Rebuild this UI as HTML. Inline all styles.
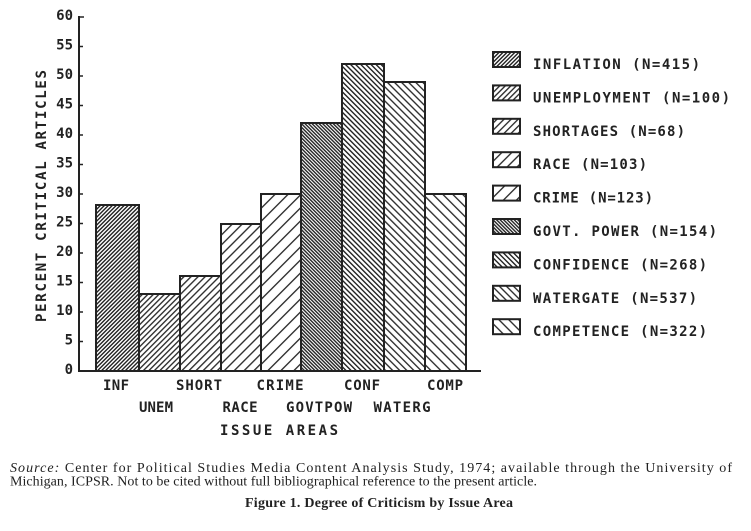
<!DOCTYPE html>
<html>
<head>
<meta charset="utf-8">
<style>
  html, body { margin:0; padding:0; background:#ffffff; }
  body { width:751px; height:531px; overflow:hidden; }
  svg { display:block; }
  .m { font-family:"DejaVu Sans Mono","Liberation Mono",monospace; font-weight:bold; fill:#222; font-size:14px; }
  .s { font-family:"Liberation Serif",serif; fill:#222; font-size:14px; }
</style>
</head>
<body>
<svg width="751" height="531" viewBox="0 0 751 531" xmlns="http://www.w3.org/2000/svg">
  <defs>
    <pattern id="pInf" width="2.8" height="10" patternUnits="userSpaceOnUse" patternTransform="rotate(45)">
      <rect width="2.8" height="10" fill="#fff"/>
      <line x1="0.7" y1="0" x2="0.7" y2="10" stroke="#222" stroke-width="1.4"/>
    </pattern>
    <pattern id="pUnem" width="3.9" height="10" patternUnits="userSpaceOnUse" patternTransform="rotate(45)">
      <rect width="3.9" height="10" fill="#fff"/>
      <line x1="0.7" y1="0" x2="0.7" y2="10" stroke="#222" stroke-width="1.3"/>
    </pattern>
    <pattern id="pShort" width="5" height="10" patternUnits="userSpaceOnUse" patternTransform="rotate(45)">
      <rect width="5" height="10" fill="#fff"/>
      <line x1="0.7" y1="0" x2="0.7" y2="10" stroke="#222" stroke-width="1.3"/>
    </pattern>
    <pattern id="pRace" width="7" height="10" patternUnits="userSpaceOnUse" patternTransform="rotate(45)">
      <rect width="7" height="10" fill="#fff"/>
      <line x1="0.7" y1="0" x2="0.7" y2="10" stroke="#222" stroke-width="1.3"/>
    </pattern>
    <pattern id="pCrime" width="9.2" height="10" patternUnits="userSpaceOnUse" patternTransform="rotate(45)">
      <rect width="9.2" height="10" fill="#fff"/>
      <line x1="0.7" y1="0" x2="0.7" y2="10" stroke="#222" stroke-width="1.3"/>
    </pattern>
    <pattern id="pGov" width="2.5" height="10" patternUnits="userSpaceOnUse" patternTransform="rotate(-45)">
      <rect width="2.5" height="10" fill="#fff"/>
      <line x1="0.7" y1="0" x2="0.7" y2="10" stroke="#222" stroke-width="1.4"/>
    </pattern>
    <pattern id="pConf" width="3.6" height="10" patternUnits="userSpaceOnUse" patternTransform="rotate(-45)">
      <rect width="3.6" height="10" fill="#fff"/>
      <line x1="0.7" y1="0" x2="0.7" y2="10" stroke="#222" stroke-width="1.4"/>
    </pattern>
    <pattern id="pWat" width="5" height="10" patternUnits="userSpaceOnUse" patternTransform="rotate(-45)">
      <rect width="5" height="10" fill="#fff"/>
      <line x1="0.7" y1="0" x2="0.7" y2="10" stroke="#222" stroke-width="1.3"/>
    </pattern>
    <pattern id="pComp" width="7" height="10" patternUnits="userSpaceOnUse" patternTransform="rotate(-45)">
      <rect width="7" height="10" fill="#fff"/>
      <line x1="0.7" y1="0" x2="0.7" y2="10" stroke="#222" stroke-width="1.3"/>
    </pattern>
  </defs>

  <!-- Y axis title -->
  <text class="m" transform="translate(46,196) rotate(-90)" text-anchor="middle" textLength="252" lengthAdjust="spacing">PERCENT CRITICAL ARTICLES</text>

  <!-- Y tick labels -->
  <g class="m" text-anchor="end">
    <text x="73" y="20">60</text>
    <text x="73" y="49.5">55</text>
    <text x="73" y="79">50</text>
    <text x="73" y="108.5">45</text>
    <text x="73" y="138">40</text>
    <text x="73" y="167.5">35</text>
    <text x="73" y="197">30</text>
    <text x="73" y="226.5">25</text>
    <text x="73" y="256">20</text>
    <text x="73" y="285.5">15</text>
    <text x="73" y="315">10</text>
    <text x="73" y="344.5">5</text>
    <text x="73" y="374">0</text>
  </g>

  <!-- Bars -->
  <g stroke="#222" stroke-width="2">
    <rect x="96" y="205" width="43" height="166" fill="url(#pInf)"/>
    <rect x="139" y="294" width="41" height="77" fill="url(#pUnem)"/>
    <rect x="180" y="276" width="41" height="95" fill="url(#pShort)"/>
    <rect x="221" y="224" width="40" height="147" fill="url(#pRace)"/>
    <rect x="261" y="194" width="40" height="177" fill="url(#pCrime)"/>
    <rect x="301" y="123" width="41" height="248" fill="url(#pGov)"/>
    <rect x="342" y="64" width="42" height="307" fill="url(#pConf)"/>
    <rect x="384" y="82" width="41" height="289" fill="url(#pWat)"/>
    <rect x="425" y="194" width="41" height="177" fill="url(#pComp)"/>
  </g>

  <!-- Axes -->
  <g stroke="#222" stroke-width="2" fill="none">
    <line x1="79" y1="16" x2="79" y2="372"/>
    <line x1="78" y1="371" x2="481" y2="371"/>
  </g>
  <g stroke="#222" stroke-width="1.5">
    <line x1="79" y1="17" x2="84" y2="17"/>
    <line x1="79" y1="46.5" x2="83" y2="46.5"/>
    <line x1="79" y1="76" x2="83" y2="76"/>
    <line x1="79" y1="105.5" x2="83" y2="105.5"/>
    <line x1="79" y1="135" x2="83" y2="135"/>
    <line x1="79" y1="164.5" x2="83" y2="164.5"/>
    <line x1="79" y1="194" x2="83" y2="194"/>
    <line x1="79" y1="223.5" x2="83" y2="223.5"/>
    <line x1="79" y1="253" x2="83" y2="253"/>
    <line x1="79" y1="282.5" x2="83" y2="282.5"/>
    <line x1="79" y1="312" x2="83" y2="312"/>
    <line x1="79" y1="341.5" x2="83" y2="341.5"/>
  </g>

  <!-- X labels -->
  <g class="m" text-anchor="middle">
    <text x="116" y="390" textLength="26" lengthAdjust="spacing">INF</text>
    <text x="199" y="390" textLength="46" lengthAdjust="spacing">SHORT</text>
    <text x="280" y="390" textLength="47" lengthAdjust="spacing">CRIME</text>
    <text x="362" y="390" textLength="36" lengthAdjust="spacing">CONF</text>
    <text x="445" y="390" textLength="36" lengthAdjust="spacing">COMP</text>
    <text x="156" y="412" textLength="34" lengthAdjust="spacing">UNEM</text>
    <text x="240" y="412" textLength="35" lengthAdjust="spacing">RACE</text>
    <text x="319" y="412" textLength="66" lengthAdjust="spacing">GOVTPOW</text>
    <text x="402" y="412" textLength="57" lengthAdjust="spacing">WATERG</text>
    <text x="279" y="435" textLength="118" lengthAdjust="spacing">ISSUE AREAS</text>
  </g>

  <!-- Legend -->
  <g stroke="#222" stroke-width="2">
    <rect x="493" y="52" width="27" height="15" fill="url(#pInf)"/>
    <rect x="493" y="85.4" width="27" height="15" fill="url(#pUnem)"/>
    <rect x="493" y="118.8" width="27" height="15" fill="url(#pShort)"/>
    <rect x="493" y="152.2" width="27" height="15" fill="url(#pRace)"/>
    <rect x="493" y="185.6" width="27" height="15" fill="url(#pCrime)"/>
    <rect x="493" y="219" width="27" height="15" fill="url(#pGov)"/>
    <rect x="493" y="252.4" width="27" height="15" fill="url(#pConf)"/>
    <rect x="493" y="285.8" width="27" height="15" fill="url(#pWat)"/>
    <rect x="493" y="319.2" width="27" height="15" fill="url(#pComp)"/>
  </g>
  <g class="m">
    <text x="533" y="69" textLength="167" lengthAdjust="spacing">INFLATION (N=415)</text>
    <text x="533" y="102.4" textLength="197" lengthAdjust="spacing">UNEMPLOYMENT (N=100)</text>
    <text x="533" y="135.8" textLength="152" lengthAdjust="spacing">SHORTAGES (N=68)</text>
    <text x="533" y="169.2" textLength="114" lengthAdjust="spacing">RACE (N=103)</text>
    <text x="533" y="202.6" textLength="120" lengthAdjust="spacing">CRIME (N=123)</text>
    <text x="533" y="236" textLength="184" lengthAdjust="spacing">GOVT. POWER (N=154)</text>
    <text x="533" y="269.4" textLength="174" lengthAdjust="spacing">CONFIDENCE (N=268)</text>
    <text x="533" y="302.8" textLength="164" lengthAdjust="spacing">WATERGATE (N=537)</text>
    <text x="533" y="336.2" textLength="174" lengthAdjust="spacing">COMPETENCE (N=322)</text>
  </g>

  <!-- Caption -->
  <text class="s" x="10" y="472" textLength="722" lengthAdjust="spacing"><tspan font-style="italic">Source:</tspan> Center for Political Studies Media Content Analysis Study, 1974; available through the University of</text>
  <text class="s" x="10" y="485.5" textLength="527" lengthAdjust="spacing">Michigan, ICPSR. Not to be cited without full bibliographical reference to the present article.</text>
  <text class="s" x="245" y="507" font-weight="bold" font-size="13.5" textLength="268" lengthAdjust="spacing">Figure 1. Degree of Criticism by Issue Area</text>
</svg>
</body>
</html>
